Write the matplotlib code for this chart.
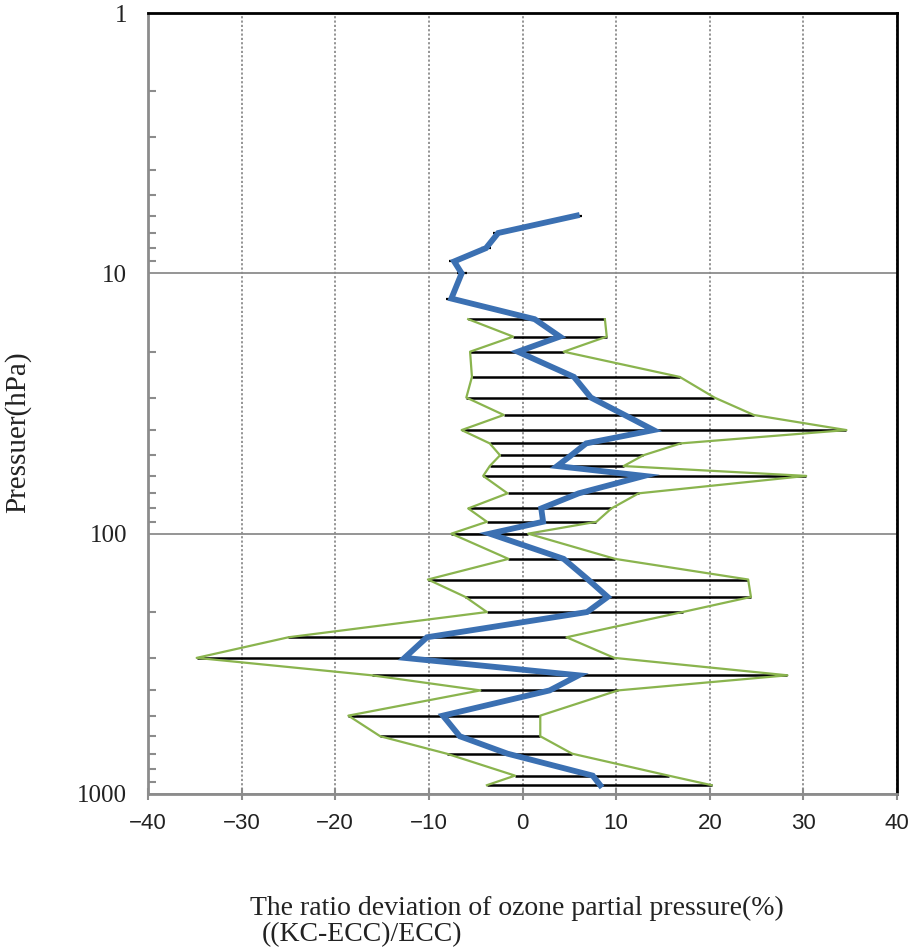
import matplotlib
matplotlib.use("Agg")
import matplotlib.pyplot as plt
from matplotlib.ticker import LogLocator, FixedLocator, FixedFormatter, NullFormatter

# Upper levels (mean only, single-sample)
levels_top = [6, 7, 8, 9, 10, 12.5]
mean_top = [5.8, -2.6, -3.9, -7.3, -6.5, -7.6]

# Levels with min/max range
levels = [15, 17.5, 20, 25, 30, 35, 40, 45, 50, 55, 60, 70, 80, 90, 100,
          125, 150, 175, 200, 250, 300, 350, 400, 500, 600, 700, 850, 925]
mean_vals = [1.3, 4.0, -0.5, 5.5, 7.3, 10.9, 14.0, 6.8, 5.2, 3.7, 13.0, 6.0, 2.0, 2.2, -3.5,
             4.4, 7.0, 9.1, 6.9, -10.2, -12.6, 6.0, 2.9, -8.5, -6.7, -1.6, 7.5, 8.3]
min_vals = [-5.8, -1.0, -5.6, -5.4, -6.0, -2.0, -6.5, -3.5, -2.4, -3.5, -4.2, -1.6, -5.8, -3.8, -7.6,
            -1.5, -10.1, -6.1, -3.8, -25.0, -34.8, -16.1, -4.5, -18.6, -15.2, -8.1, -0.8, -3.8]
max_vals = [8.8, 9.0, 4.4, 16.8, 20.5, 24.7, 34.6, 16.9, 12.9, 10.8, 30.3, 12.4, 9.5, 7.9, 0.6,
            9.9, 24.1, 24.4, 17.1, 4.7, 9.8, 28.3, 10.2, 1.9, 1.9, 5.3, 15.6, 20.2]

xticks = [-40, -30, -20, -10, 0, 10, 20, 30, 40]
yticks = [1, 10, 100, 1000]
ytick_labels = ["1", "10", "100", "1000"]

ylabel = "Pressuer(hPa)"
xlabel_1 = "The ratio deviation of ozone partial pressure(%)"
xlabel_2 = "((KC-ECC)/ECC)"

W, H = 913, 948
fig = plt.figure(figsize=(W / 100, H / 100), dpi=100)
ax = fig.add_axes([148 / W, 1 - 794 / H, (897 - 148) / W, (794 - 13) / H])

blue = "#3B70B2"
green = "#8AB44E"
grey = "#8C8C8C"
serif = ["Liberation Serif", "DejaVu Serif"]

ax.set_yscale("log")
ax.set_ylim(1000, 1)
ax.set_xlim(-40, 40)

# grid
ax.set_xticks(xticks)
ax.xaxis.grid(True, linestyle=(0, (1.2, 1.2)), color=grey, lw=1.3, zorder=0)
ax.yaxis.set_major_locator(FixedLocator(yticks))
ax.yaxis.set_major_formatter(FixedFormatter(ytick_labels))
ax.yaxis.set_minor_locator(LogLocator(base=10, subs=range(2, 10)))
ax.yaxis.set_minor_formatter(NullFormatter())
ax.yaxis.grid(True, which="major", color=grey, lw=1.3, zorder=0)
ax.set_axisbelow(True)

# data
ax.hlines(levels, min_vals, max_vals, color="black", lw=1.8, zorder=2)
ax.plot(min_vals, levels, color=green, lw=1.6, zorder=3)
ax.plot(max_vals, levels, color=green, lw=1.6, zorder=3)
ax.plot(mean_top, levels_top, ls="none", marker="_", ms=7, mew=1.6, color="black", zorder=2)
ax.plot(mean_top + mean_vals, levels_top + levels, color=blue, lw=4.2, zorder=4,
        solid_joinstyle="miter")

# spines
for s in ["left", "bottom"]:
    ax.spines[s].set_color(grey)
    ax.spines[s].set_linewidth(2)
for s in ["top", "right"]:
    ax.spines[s].set_color("black")
    ax.spines[s].set_linewidth(2)

ax.tick_params(axis="x", which="major", direction="inout", length=9, width=1.5,
               color=grey, pad=9, labelsize=16)
ax.tick_params(axis="y", which="major", length=0, pad=15, labelsize=18)
ax.tick_params(axis="y", which="minor", direction="in", length=6, width=1.5, color=grey)

for lab in ax.get_yticklabels():
    lab.set_fontfamily(serif)
    lab.set_color("#222222")
for lab in ax.get_xticklabels():
    lab.set_fontfamily(["Liberation Sans Narrow", "Liberation Sans", "DejaVu Sans"])
    lab.set_color("#222222")

fig.text(18 / W, 1 - 432 / H, ylabel, rotation=90, ha="center", va="center",
         fontsize=21, family=serif, color="#222222")
fig.text(517 / W, 1 - 908 / H, xlabel_1, ha="center", va="center",
         fontsize=20, family=serif, color="#222222")
fig.text(262 / W, 1 - 935 / H, xlabel_2, ha="left", va="center",
         fontsize=20, family=serif, color="#222222")

fig.savefig("out.png", dpi=100)
